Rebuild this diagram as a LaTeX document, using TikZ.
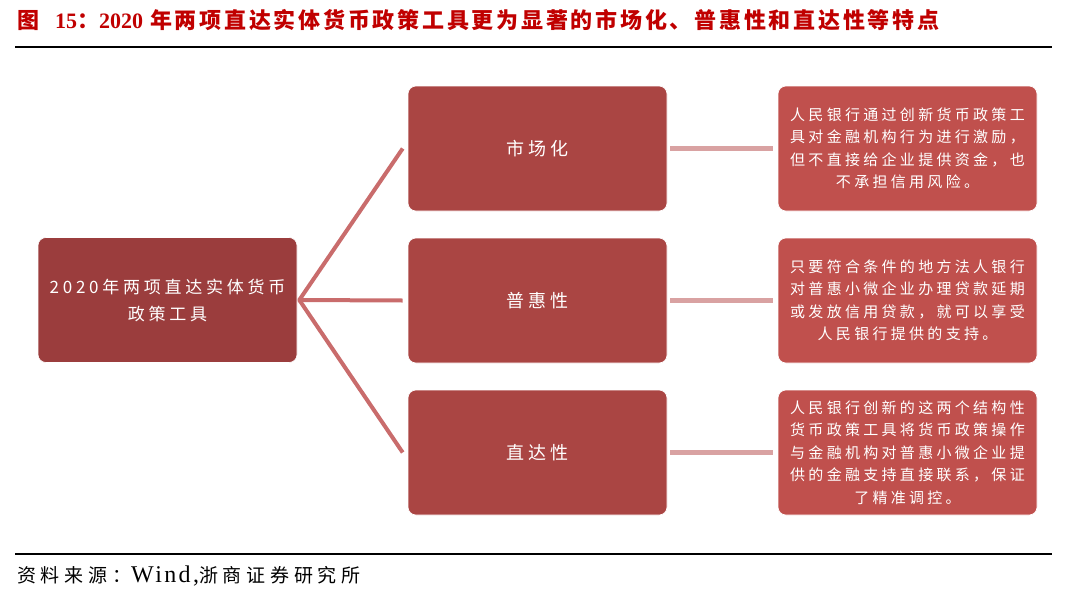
\documentclass[tikz,border=0pt]{standalone}
\usepackage{fontspec}
\setmainfont{Liberation Serif}
\newfontfamily\cjk{Noto Sans CJK SC}
\newfontfamily\cjksp[LetterSpace=22]{Noto Sans CJK SC}
\newfontfamily\footcjk[LetterSpace=25]{Noto Sans CJK SC}
\newfontfamily\titlecjk[LetterSpace=12.5]{Noto Sans CJK SC}
\newfontfamily\windfont[LetterSpace=10]{Liberation Serif}
\definecolor{titlered}{HTML}{C00000}
\definecolor{boxA}{HTML}{9B3D3D}
\definecolor{boxB}{HTML}{AA4543}
\definecolor{boxC}{HTML}{C0504D}
\definecolor{lineA}{HTML}{C96C6C}
\definecolor{lineB}{HTML}{D9A2A2}
\tikzset{
  basebox/.style={rounded corners=8pt, minimum width=259pt, minimum height=125pt, text=white, align=center, inner sep=0pt, draw=white, line width=0.6pt},
  rootbox/.style={basebox, fill=boxA, font=\fontsize{17}{27}\cjksp},
  midbox/.style={basebox, fill=boxB, font=\fontsize{18}{24}\cjksp},
  descbox/.style={basebox, fill=boxC, font=\fontsize{15}{22.5}\cjksp},
  linkA/.style={draw=lineA, line width=4pt},
  linkB/.style={draw=lineB, line width=5pt},
}
\begin{document}
\begin{tikzpicture}[x=1pt,y=-1pt]
\useasboundingbox (0,0) rectangle (1080,603);
% title
\node[anchor=west, inner sep=0pt, text=titlered, font=\fontsize{22}{26}\selectfont\bfseries] (title) at (17,20)
  {{\titlecjk 图}\hspace{16pt}{\fontsize{22}{26}\selectfont 15}{\titlecjk ：}{\fontsize{22}{26}\selectfont 2020}\hspace{7pt}{\titlecjk 年两项直达实体货币政策工具更为显著的市场化、普惠性和直达性等特点}};
\draw[line width=2pt] (15,47) -- (1052,47);
% boxes
\node[rootbox] (root) at (167.5,300) {2020年两项直达实体货币\\政策工具};
\node[midbox] (m1) at (537.5,148.5) {市场化};
\node[midbox] (m2) at (537.5,300.5) {普惠性};
\node[midbox] (m3) at (537.5,452.5) {直达性};
\node[descbox] (d1) at (907.5,148.5) {人民银行通过创新货币政策工\\具对金融机构行为进行激励，\\但不直接给企业提供资金，也\\不承担信用风险。};
\node[descbox] (d2) at (907.5,300.5) {只要符合条件的地方法人银行\\对普惠小微企业办理贷款延期\\或发放信用贷款，就可以享受\\人民银行提供的支持。};
\node[descbox] (d3) at (907.5,452.5) {人民银行创新的这两个结构性\\货币政策工具将货币政策操作\\与金融机构对普惠小微企业提\\供的金融支持直接联系，保证\\了精准调控。};
% connectors
\coordinate (j) at ([xshift=2pt]root.east);
\draw[linkA, line join=round] ([xshift=-5pt]m1.west) -- (j) -- ([xshift=-5pt]m3.west);
\draw[linkA] (j) -- ([xshift=-5pt]m2.west);
\draw[linkB] ([xshift=3pt]m1.east) -- ([xshift=-5pt]d1.west);
\draw[linkB] ([xshift=3pt]m2.east) -- ([xshift=-5pt]d2.west);
\draw[linkB] ([xshift=3pt]m3.east) -- ([xshift=-5pt]d3.west);
% footer
\draw[line width=1.5pt] (15,554) -- (1052,554);
\node[anchor=west, inner sep=0pt, font=\fontsize{19}{22}\selectfont] (src) at (17,576)
  {{\footcjk 资料来源：}{\fontsize{24}{22}\selectfont\windfont Wind,}{\footcjk 浙商证券研究所}};
\end{tikzpicture}
\end{document}
